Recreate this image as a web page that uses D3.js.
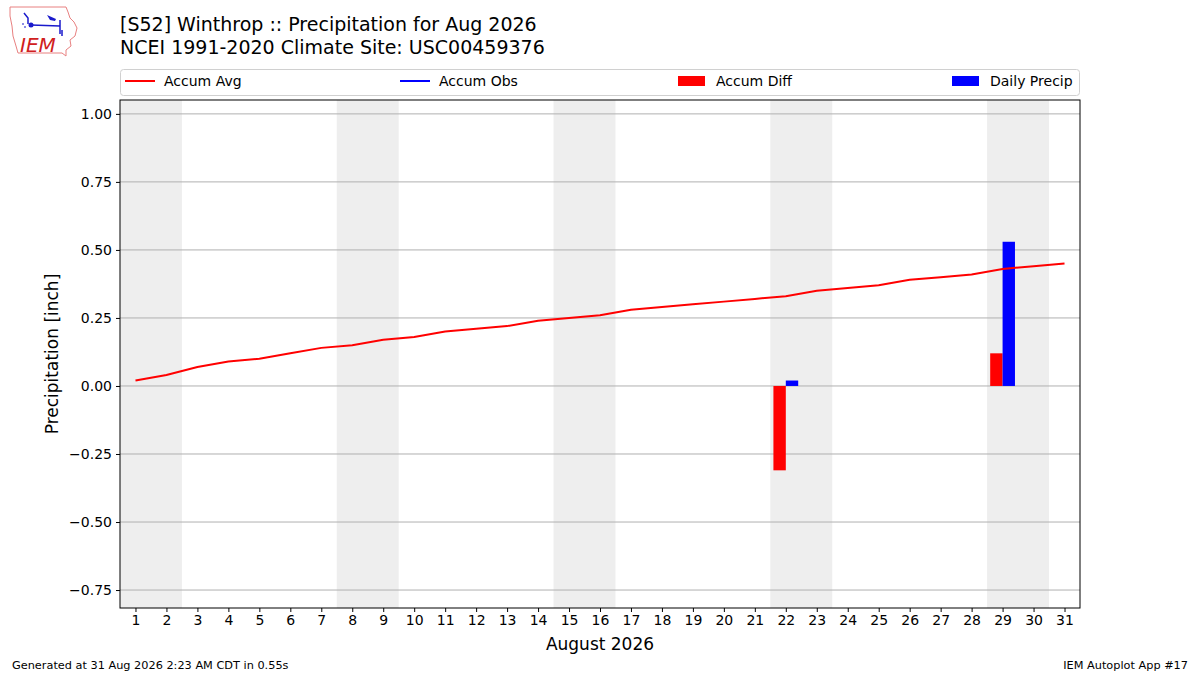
<!DOCTYPE html>
<html>

<head>
  <meta charset="utf-8">
  <title>Winthrop Precipitation</title>
  <script src="https://d3js.org/d3.v7.min.js"></script>
  <style>
    body { margin: 0; background: #fff; }
    text { font-family: "DejaVu Sans", sans-serif; }
  </style>
</head>

<body>
  <div id='view'></div>
  <script>
    var days = d3.range(1, 32);
    var accumAvg = [0.02, 0.04, 0.07, 0.09, 0.10, 0.12, 0.14, 0.15, 0.17, 0.18,
      0.20, 0.21, 0.22, 0.24, 0.25, 0.26, 0.28, 0.29, 0.30, 0.31,
      0.32, 0.33, 0.35, 0.36, 0.37, 0.39, 0.40, 0.41, 0.43, 0.44, 0.45];
    // only days with an observation
    var obsDays = [22, 29];
    var dailyPrecip = [0.02, 0.53];
    var accumDiff = [-0.31, 0.12];
    var weekends = [[1, 2], [8, 9], [15, 16], [22, 23], [29, 30]];
    var yTicks = [-0.75, -0.5, -0.25, 0, 0.25, 0.5, 0.75, 1.0];

    var width = 1200;
    var height = 675;
    var pLeft = 120, pRight = 1080, pTop = 100, pBottom = 608;

    var svg = d3.select("#view")
      .append("svg")
      .attr("width", width)
      .attr("height", height);

    var x = d3.scaleLinear().domain([0.5, 31.5]).range([pLeft, pRight]);
    var y = d3.scaleLinear().domain([-0.816, 1.051]).range([pBottom, pTop]);
    var dayW = x(1) - x(0);

    // weekend shading
    svg.selectAll("rect.wk")
      .data(weekends)
      .enter().append("rect")
      .attr("x", d => x(d[0] - 0.5))
      .attr("width", d => x(d[1] + 0.5) - x(d[0] - 0.5))
      .attr("y", pTop)
      .attr("height", pBottom - pTop)
      .attr("fill", "#eeeeee");

    // grid
    svg.selectAll("line.grid")
      .data(yTicks)
      .enter().append("line")
      .attr("x1", pLeft).attr("x2", pRight)
      .attr("y1", d => y(d)).attr("y2", d => y(d))
      .attr("stroke", "#b0b0b0")
      .attr("stroke-width", 1);

    // bars
    var barW = 0.4;
    svg.selectAll("rect.diff")
      .data(obsDays)
      .enter().append("rect")
      .attr("x", d => x(d - barW))
      .attr("width", barW * dayW)
      .attr("y", (d, i) => y(Math.max(0, accumDiff[i])))
      .attr("height", (d, i) => Math.abs(y(accumDiff[i]) - y(0)))
      .attr("fill", "red");

    svg.selectAll("rect.obs")
      .data(obsDays)
      .enter().append("rect")
      .attr("x", d => x(d))
      .attr("width", barW * dayW)
      .attr("y", (d, i) => y(Math.max(0, dailyPrecip[i])))
      .attr("height", (d, i) => Math.abs(y(dailyPrecip[i]) - y(0)))
      .attr("fill", "blue");

    // accum avg line
    var line = d3.line()
      .x((d, i) => x(days[i]))
      .y(d => y(d));
    svg.append("path")
      .datum(accumAvg)
      .attr("d", line)
      .attr("fill", "none")
      .attr("stroke", "red")
      .attr("stroke-width", 2);

    // frame
    svg.append("rect")
      .attr("x", pLeft).attr("y", pTop)
      .attr("width", pRight - pLeft).attr("height", pBottom - pTop)
      .attr("fill", "none")
      .attr("stroke", "black")
      .attr("stroke-width", 1);

    // axes
    var xAxis = svg.append("g")
      .attr("transform", "translate(0," + pBottom + ")")
      .call(d3.axisBottom(x).tickValues(days).tickSize(4).tickPadding(3).tickFormat(d3.format("d")));
    xAxis.select(".domain").remove();
    xAxis.selectAll("text").attr("font-size", 14).attr("fill", "black");

    var yAxis = svg.append("g")
      .attr("transform", "translate(" + pLeft + ",0)")
      .call(d3.axisLeft(y).tickValues(yTicks).tickSize(4).tickPadding(4)
        .tickFormat(d => d3.format(".2f")(d).replace("-", "\u2212")));
    yAxis.select(".domain").remove();
    yAxis.selectAll("text").attr("font-size", 14).attr("fill", "black");

    svg.append("text")
      .attr("transform", "translate(58," + ((pTop + pBottom) / 2) + ") rotate(-90)")
      .attr("text-anchor", "middle")
      .attr("font-size", 17)
      .text("Precipitation [inch]");

    svg.append("text")
      .attr("x", (pLeft + pRight) / 2)
      .attr("y", 650)
      .attr("text-anchor", "middle")
      .attr("font-size", 17)
      .text("August 2026");

    // titles
    svg.append("text").attr("x", 120).attr("y", 31).attr("font-size", 19)
      .text("[S52] Winthrop :: Precipitation for Aug 2026");
    svg.append("text").attr("x", 120).attr("y", 54).attr("font-size", 19)
      .text("NCEI 1991-2020 Climate Site: USC00459376");

    // legend
    svg.append("rect")
      .attr("x", 120.5).attr("y", 69.5)
      .attr("width", 959).attr("height", 26)
      .attr("rx", 3)
      .attr("fill", "white")
      .attr("stroke", "#d0d0d0");
    var legend = [
      { label: "Accum Avg", color: "red", type: "line", x: 125 },
      { label: "Accum Obs", color: "blue", type: "line", x: 400 },
      { label: "Accum Diff", color: "red", type: "patch", x: 678 },
      { label: "Daily Precip", color: "blue", type: "patch", x: 952 }
    ];
    legend.forEach(function (d) {
      if (d.type == "line") {
        svg.append("line")
          .attr("x1", d.x).attr("x2", d.x + 30)
          .attr("y1", 81).attr("y2", 81)
          .attr("stroke", d.color).attr("stroke-width", 2);
      } else {
        svg.append("rect")
          .attr("x", d.x).attr("y", 76)
          .attr("width", 27).attr("height", 10)
          .attr("fill", d.color);
      }
      svg.append("text")
        .attr("x", d.x + (d.type == "line" ? 39 : 38))
        .attr("y", 86)
        .attr("font-size", 14)
        .text(d.label);
    });

    // footer
    svg.append("text").attr("x", 12).attr("y", 669).attr("font-size", 11.3)
      .text("Generated at 31 Aug 2026 2:23 AM CDT in 0.55s");
    svg.append("text").attr("x", 1188).attr("y", 669).attr("font-size", 11.3)
      .attr("text-anchor", "end")
      .text("IEM Autoplot App #17");

    // IEM logo (rough sketch)
    var logo = svg.append("g");
    logo.append("path")
      .attr("d", "M10,7 L66,7 L68,12 L70,18 L74,22 L77,28 L75,36 L70,40 L71,46 L66,50 L66,56 L62,53 L18,53 L16,46 L13,36 L12,26 L10,16 Z")
      .attr("fill", "white")
      .attr("stroke", "#e88080")
      .attr("stroke-width", 1);
    var blue = "#1a1acc";
    logo.append("path").attr("d", "M31,25 L60,26 M60,20 L60,34 M62,30 L62,36 M24,13 L28,18 L28,24")
      .attr("fill", "none").attr("stroke", blue).attr("stroke-width", 1.5);
    logo.append("circle").attr("cx", 31).attr("cy", 25).attr("r", 2.5).attr("fill", blue);
    logo.append("path").attr("d", "M47,15 L56,19 L55,21 L50,20 Z").attr("fill", blue);
    logo.append("path").attr("d", "M22,24 L24,24 M24,27 L26,27").attr("stroke", blue).attr("stroke-width", 1.2);
    logo.append("text")
      .attr("x", 20).attr("y", 52)
      .attr("font-family", "Liberation Serif, serif")
      .attr("font-style", "italic")
      .attr("font-size", 20)
      .attr("fill", "#d02020")
      .text("IEM");
  </script>
</body>

</html>
